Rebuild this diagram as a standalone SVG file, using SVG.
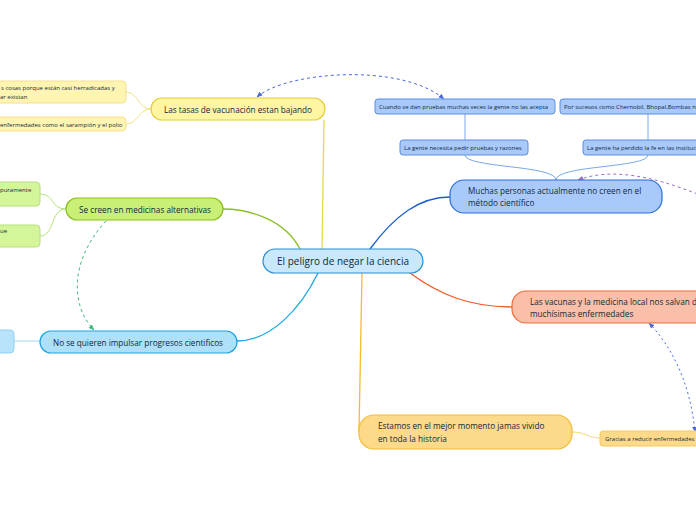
<svg xmlns="http://www.w3.org/2000/svg" width="696" height="520" viewBox="0 0 696 520">
<defs>
<style>
text{font-family:"Open Sans","Noto Sans","DejaVu Sans",sans-serif;fill:#0f2a3a}
.m{font-size:8.2px}
.s{font-size:6px}
.c{font-size:10px}
.ln{fill:none;stroke-width:1.3}
.sl{fill:none;stroke-width:1}
</style>
<marker id="ab" viewBox="0 0 10 10" refX="9" refY="5" markerWidth="6" markerHeight="6" orient="auto-start-reverse"><path d="M0,1 L10,5 L0,9 Z" fill="#4a68e0"/></marker>
<marker id="ag" viewBox="0 0 10 10" refX="9" refY="5" markerWidth="6" markerHeight="6" orient="auto-start-reverse"><path d="M0,1 L10,5 L0,9 Z" fill="#3cb878"/></marker>
<marker id="ap" viewBox="0 0 10 10" refX="9" refY="5" markerWidth="6" markerHeight="6" orient="auto-start-reverse"><path d="M0,1 L10,5 L0,9 Z" fill="#9b6fc8"/></marker>
</defs>
<rect width="696" height="520" fill="#ffffff"/>
<g id="connectors">
<path class="ln" stroke="#e8d84a" d="M322,249 L324,120"/>
<path class="ln" stroke="#8cbd20" d="M300,249 C285,220 250,209 223,209"/>
<path class="ln" stroke="#1aa3e5" d="M318,273 C300,310 270,341 237,341"/>
<path class="ln" stroke="#1a5ed0" d="M370,249 C395,215 420,197 450,197"/>
<path class="ln" stroke="#f05a28" d="M410,273 C440,295 470,307 512,307"/>
<path class="ln" stroke="#f5bb30" d="M362,273 L359,432"/>
<path class="sl" stroke="#f5d878" d="M572,432 C585,432 588,438 600,438"/>
<path class="sl" stroke="#f5e08a" d="M151,109 C138,109 138,92 126,92 M151,109 C138,109 138,124 126,124"/>
<path class="sl" stroke="#b5e07a" d="M66,209 C50,209 55,194 40,194 M66,209 C50,209 55,236 40,236"/>
<path class="sl" stroke="#9fd8f5" d="M40,341 L14,341"/>
<path class="sl" stroke="#7aa8e8" d="M465,114 L465,140 M648,114 L648,140 M465,155 C465,168 556,165 556,180 M648,155 C648,168 556,165 556,180"/>
<path fill="none" stroke="#4a68e0" stroke-dasharray="3,3" marker-start="url(#ab)" marker-end="url(#ab)" d="M257,97 C285,72 400,62 444,99"/>
<path fill="none" stroke="#3cb878" stroke-dasharray="3,3" marker-end="url(#ag)" d="M106,221 C70,260 70,305 94,330"/>
<path fill="none" stroke="#9b6fc8" stroke-dasharray="3,3" marker-start="url(#ap)" d="M578,180 C610,168 650,175 700,195"/>
<path fill="none" stroke="#4a68e0" stroke-dasharray="2,3" marker-start="url(#ab)" marker-end="url(#ab)" d="M649,323 C670,345 690,380 695,432"/>
</g>
<g id="central"><rect x="263" y="249" width="160" height="24" rx="12" fill="#c9e8fb" stroke="#2b8ed6" stroke-width="1.2"/><text class="c" x="343" y="265" text-anchor="middle">El peligro de negar la ciencia</text></g>
<g id="vacunacion"><rect x="151" y="98" width="174" height="22" rx="11" fill="#fff5a3" stroke="#e3cf3a" stroke-width="1.2"/><text class="m" x="164" y="112.5">Las tasas de vacunación estan bajando</text></g>
<g id="vac1"><rect x="-10" y="81" width="136" height="22" rx="4" fill="#fff5b3" stroke="#f5e08a"/><text class="s" x="1" y="90">s cosas porque están casi herradicadas y</text><text class="s" x="0" y="99">ar existan</text></g>
<g id="vac2"><rect x="-10" y="117" width="136" height="14" rx="4" fill="#fff5b3" stroke="#f5e08a"/><text class="s" x="0" y="126.5">enfermedades como el sarampión y el polio</text></g>
<g id="alternativas"><rect x="66" y="198" width="157" height="22" rx="11" fill="#c9ef77" stroke="#8cbd20" stroke-width="1.2"/><text class="m" x="79" y="212.5">Se creen en medicinas alternativas</text></g>
<g id="alt1"><rect x="-10" y="182" width="50" height="24" rx="4" fill="#d5f59a" stroke="#b5e07a"/><text class="s" x="0" y="192">puramente</text></g>
<g id="alt2"><rect x="-10" y="225" width="50" height="22" rx="4" fill="#d5f59a" stroke="#b5e07a"/><text class="s" x="0" y="233">ue</text></g>
<g id="progresos"><rect x="40" y="331" width="197" height="22" rx="11" fill="#aee0fa" stroke="#1aa3e5" stroke-width="1.2"/><text class="m" x="53" y="345.5">No se quieren impulsar progresos cientificos</text></g>
<g id="prog1"><rect x="-10" y="330" width="24" height="23" rx="4" fill="#b8e4fb" stroke="#8fd0f3"/></g>
<g id="muchas"><rect x="450" y="180" width="212" height="33" rx="14" fill="#a9c9fa" stroke="#2a6fd8" stroke-width="1.2"/><text class="m" x="468" y="194">Muchas personas actualmente no creen en el</text><text class="m" x="468" y="206">método científico</text></g>
<g id="cuando"><rect x="375" y="99" width="180" height="15" rx="3" fill="#a9c9fa" stroke="#5b8ee0"/><text class="s" x="379" y="109">Cuando se dan pruebas muchas veces la gente no las acepta</text></g>
<g id="sucesos"><rect x="560" y="99" width="150" height="15" rx="3" fill="#a9c9fa" stroke="#5b8ee0"/><text class="s" x="564" y="109">Por sucesos como Chernobil, Bhopal,Bombas nu</text></g>
<g id="pruebas"><rect x="400" y="140" width="128" height="15" rx="3" fill="#a9c9fa" stroke="#5b8ee0"/><text class="s" x="404" y="150">La gente necesita pedir pruebas y razones</text></g>
<g id="fe"><rect x="583" y="140" width="130" height="15" rx="3" fill="#a9c9fa" stroke="#5b8ee0"/><text class="s" x="587" y="150">La gente ha perdido la fe en las instituci</text></g>
<g id="vacunas"><rect x="512" y="291" width="200" height="32" rx="14" fill="#f9bfa8" stroke="#f06a3a" stroke-width="1.2"/><text class="m" x="530" y="305">Las vacunas y la medicina local nos salvan d</text><text class="m" x="530" y="317">muchísimas enfermedades</text></g>
<g id="estamos"><rect x="359" y="415" width="213" height="34" rx="15" fill="#fdd98a" stroke="#f5bb30" stroke-width="1.2"/><text class="m" x="378" y="429">Estamos en el mejor momento jamas vivido</text><text class="m" x="378" y="442">en toda la historia</text></g>
<g id="gracias"><rect x="600" y="431" width="100" height="15" rx="3" fill="#fdd98a" stroke="#f5c860"/><text class="s" x="605" y="441">Gracias a reducir enfermedades</text></g>
</svg>
